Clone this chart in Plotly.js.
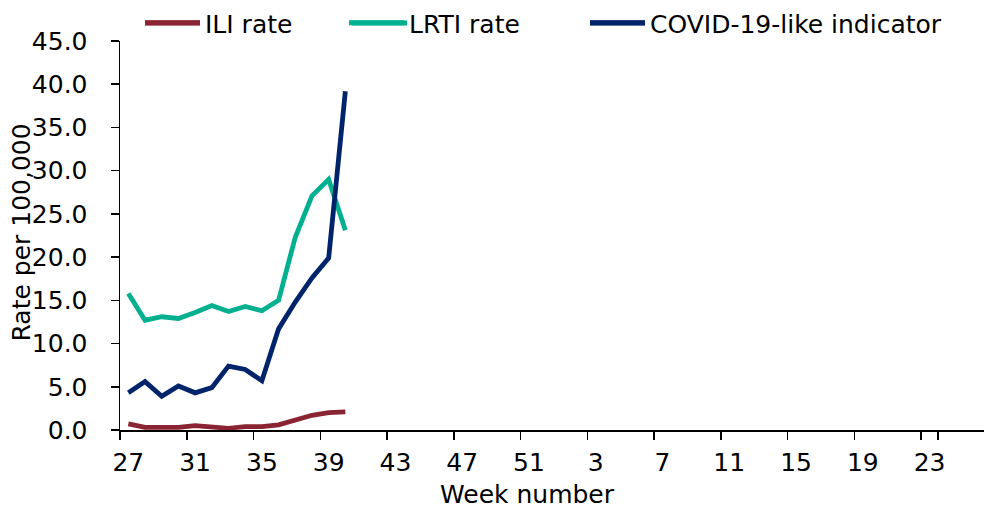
<!DOCTYPE html>
<html>
<head>
<meta charset="utf-8">
<script src="https://cdn.plot.ly/plotly-3.0.1.min.js"></script>
<style>html,body{margin:0;padding:0;background:#fff}#chart{width:984px;height:513px}</style>
</head>
<body>
<div id="chart"></div>
<script>
// All week categories on the axis (week 27 of one year to week 26 of the next)
const weeks = [];
for (let w = 27; w <= 52; w++) weeks.push(String(w));
for (let w = 1; w <= 26; w++) weeks.push(String(w));

const dataWeeks = ["27","28","29","30","31","32","33","34","35","36","37","38","39","40"];
const iliRate   = [0.7, 0.3, 0.3, 0.3, 0.5, 0.4, 0.2, 0.4, 0.4, 0.6, 1.1, 1.7, 2.0, 2.1];
const lrtiRate  = [15.8, 12.7, 13.1, 12.9, 13.6, 14.4, 13.7, 14.3, 13.8, 15.0, 22.3, 27.1, 29.0, 23.1];
const covidLike = [4.3, 5.6, 3.9, 5.1, 4.3, 4.9, 7.4, 7.0, 5.7, 11.7, 14.8, 17.6, 19.9, 39.2];

const tickLabels = ["27","31","35","39","43","47","51","3","7","11","15","19","23"];

const seriesNames  = ["ILI rate", "LRTI rate", "COVID-19-like indicator"];
const seriesColors = ["#8a2432", "#00b08f", "#00246b"];

const FONT = "DejaVu Sans";
const FS = 25;

const values = [iliRate, lrtiRate, covidLike];
const legendIds = ["legend", "legend2", "legend3"];
const traces = values.map((v, i) => ({
  x: dataWeeks, y: v, name: seriesNames[i], mode: "lines", legend: legendIds[i],
  line: {color: seriesColors[i], width: 4.8}
}));

const W = 864, H = 390;
function px(p){ return (p - 120) / W; }
function py(p){ return (430 - p) / H; }
const legBase = {orientation: "h", yanchor: "middle", y: py(22), xanchor: "left",
  font: {family: FONT, size: FS, color: "#000"}, bgcolor: "rgba(0,0,0,0)", itemwidth: 55,
  borderwidth: 0};

// longer legend keys (as in the reference), laid over the native legend symbols
const keyStarts = [145, 352, 590];
const keyShapes = keyStarts.map((s, i) => ({
  type: "line", xref: "paper", yref: "paper", x0: px(s), x1: px(s + 55), y0: py(22), y1: py(22),
  line: {color: seriesColors[i], width: 5}
}));

const layout = {
  width: 984, height: 513,
  margin: {l: 120, r: 0, t: 40, b: 83},
  paper_bgcolor: "#fff", plot_bgcolor: "#fff",
  font: {family: FONT, size: FS, color: "#000"},
  showlegend: true,
  legend: Object.assign({}, legBase, {x: px(140)}),
  legend2: Object.assign({}, legBase, {x: px(344)}),
  legend3: Object.assign({}, legBase, {x: px(585)}),
  xaxis: {
    type: "category", categoryorder: "array", categoryarray: weeks,
    range: [-0.5, 51.26], tickmode: "array", tickvals: tickLabels, tickangle: 0,
    tickson: "boundaries", ticks: "outside", ticklen: 8, tickwidth: 1.5, tickcolor: "#000",
    showline: true, linecolor: "#000", linewidth: 1.5, showgrid: false, zeroline: false,
    ticklabelstandoff: 9, automargin: false, fixedrange: true
  },
  yaxis: {
    range: [0, 45], tickmode: "linear", tick0: 0, dtick: 5, tickformat: ".1f",
    ticks: "outside", ticklen: 8, tickwidth: 1.5, tickcolor: "#000",
    showline: true, linecolor: "#000", linewidth: 1.5, showgrid: false, zeroline: false,
    ticklabelstandoff: 18, automargin: false, fixedrange: true
  },
  shapes: keyShapes,
  annotations: [{
    text: "Rate per 100,000", textangle: -90, xref: "paper", yref: "paper",
    x: px(22), y: py(232), xanchor: "center", yanchor: "middle", showarrow: false,
    font: {family: FONT, size: FS, color: "#000"}
  }, {
    text: "Week number", xref: "paper", yref: "paper",
    x: px(527), y: py(495), xanchor: "center", yanchor: "middle", showarrow: false,
    font: {family: FONT, size: FS, color: "#000"}
  }]
};

Plotly.newPlot("chart", traces, layout, {staticPlot: true, displayModeBar: false});
</script>
</body>
</html>
